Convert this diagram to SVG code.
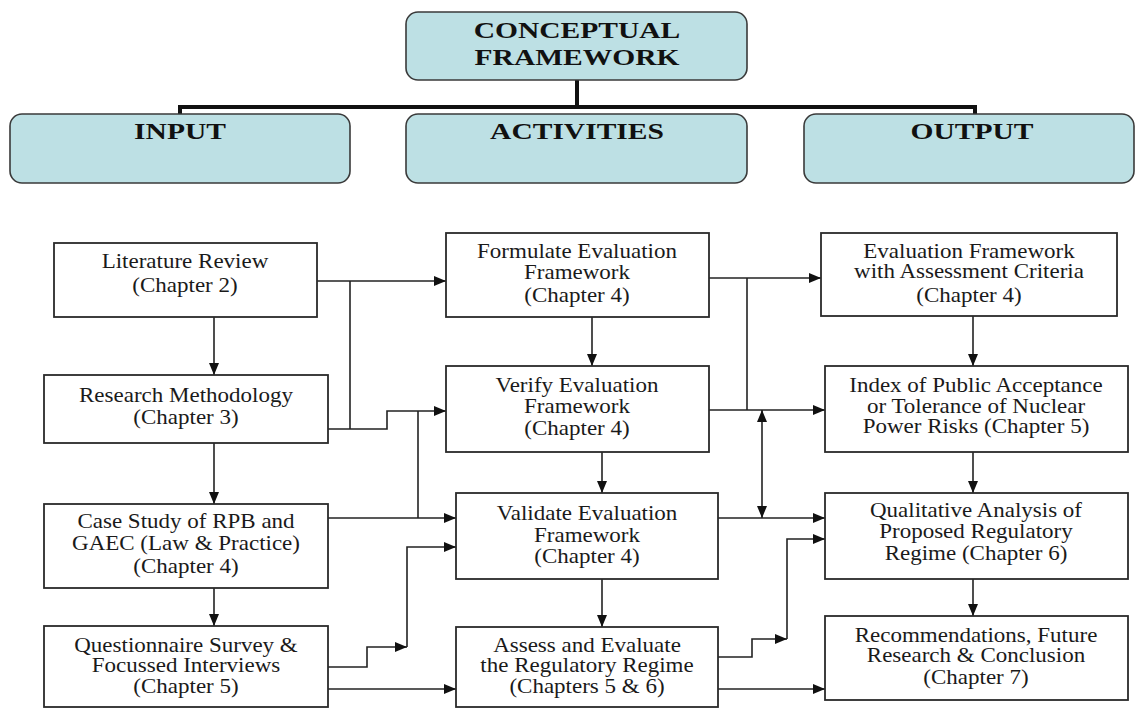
<svg xmlns="http://www.w3.org/2000/svg" width="1136" height="709" viewBox="0 0 1136 709">
<style>
.hbox{fill:#bde0e4;stroke:#3a3a3a;stroke-width:1.6}
.box{fill:#fff;stroke:#2a2a2a;stroke-width:1.8}
.ht{font-family:"Liberation Serif",serif;font-weight:bold;font-size:24px;fill:#111;text-anchor:middle}
.t{font-family:"Liberation Serif",serif;font-size:20px;fill:#1a1a1a;text-anchor:middle}
.c{fill:none;stroke:#222;stroke-width:1.6}
.a{marker-end:url(#ah)}
</style>
<defs>
<marker id="ah" markerUnits="userSpaceOnUse" markerWidth="12" markerHeight="10" refX="12" refY="5" orient="auto-start-reverse"><path d="M0,0 L12,5 L0,10 z" fill="#111"/></marker>
</defs>
<rect width="1136" height="709" fill="#fff"/>

<g id="header-connectors"><path d="M577,80 V107 M180,114 V107 H975 V114" fill="none" stroke="#111" stroke-width="4"/></g>

<g id="conceptual"><rect class="hbox" x="406" y="12" width="341" height="68" rx="12"/>
<text class="ht" transform="translate(577,38) scale(1.23,1)">CONCEPTUAL</text>
<text class="ht" transform="translate(577,65) scale(1.23,1)">FRAMEWORK</text></g>
<g id="input"><rect class="hbox" x="10" y="114" width="340" height="69" rx="12"/>
<text class="ht" transform="translate(180,139) scale(1.23,1)">INPUT</text></g>
<g id="activities"><rect class="hbox" x="406" y="114" width="341" height="69" rx="12"/>
<text class="ht" transform="translate(577,139) scale(1.23,1)">ACTIVITIES</text></g>
<g id="output"><rect class="hbox" x="804" y="114" width="330" height="69" rx="12"/>
<text class="ht" transform="translate(972,139) scale(1.23,1)">OUTPUT</text></g>

<g id="connectors">
<path class="c a" d="M214,317 V375"/>
<path class="c a" d="M214,443 V504"/>
<path class="c a" d="M214,588 V626"/>
<path class="c a" d="M317,281 H446"/>
<path class="c" d="M350,281 V429" stroke="#555"/>
<path class="c a" d="M328,429 H387 V411 H446"/>
<path class="c" d="M418,411 V518"/>
<path class="c a" d="M328,518 H456"/>
<path class="c a" d="M328,667 H367 V647 H407"/>
<path class="c a" d="M407,647 V547 H456"/>
<path class="c a" d="M328,689 H456"/>
<path class="c a" d="M592,317 V366"/>
<path class="c a" d="M602,452 V493"/>
<path class="c a" d="M602,579 V627"/>
<path class="c a" d="M709,278 H821"/>
<path class="c" d="M747,278 V410"/>
<path class="c a" d="M709,410 H825"/>
<path class="c a" d="M762,518 V410" style="marker-start:url(#ah)"/>
<path class="c a" d="M718,518 H825"/>
<path class="c a" d="M718,657 H752 V639 H787"/>
<path class="c a" d="M787,639 V539 H825"/>
<path class="c a" d="M718,689 H825"/>
<path class="c a" d="M973,316 V366"/>
<path class="c a" d="M973,452 V493"/>
<path class="c a" d="M973,579 V616"/>
</g>

<g id="literature-review"><rect class="box" x="54" y="243" width="263" height="74"/>
<text class="t" transform="translate(185,268) scale(1.15,1)">Literature Review</text>
<text class="t" transform="translate(185,292) scale(1.15,1)">(Chapter 2)</text></g>
<g id="research-methodology"><rect class="box" x="44" y="375" width="284" height="68"/>
<text class="t" transform="translate(186,402) scale(1.15,1)">Research Methodology</text>
<text class="t" transform="translate(186,424) scale(1.15,1)">(Chapter 3)</text></g>
<g id="case-study"><rect class="box" x="44" y="504" width="284" height="84"/>
<text class="t" transform="translate(186,528) scale(1.15,1)">Case Study of RPB and</text>
<text class="t" transform="translate(186,550) scale(1.15,1)">GAEC (Law &amp; Practice)</text>
<text class="t" transform="translate(186,573) scale(1.15,1)">(Chapter 4)</text></g>
<g id="questionnaire"><rect class="box" x="44" y="626" width="284" height="81"/>
<text class="t" transform="translate(186,652) scale(1.15,1)">Questionnaire Survey &amp;</text>
<text class="t" transform="translate(186,672) scale(1.15,1)">Focussed Interviews</text>
<text class="t" transform="translate(186,693) scale(1.15,1)">(Chapter 5)</text></g>

<g id="formulate"><rect class="box" x="446" y="233" width="263" height="84"/>
<text class="t" transform="translate(577,258) scale(1.15,1)">Formulate Evaluation</text>
<text class="t" transform="translate(577,279) scale(1.15,1)">Framework</text>
<text class="t" transform="translate(577,302) scale(1.15,1)">(Chapter 4)</text></g>
<g id="verify"><rect class="box" x="446" y="366" width="263" height="86"/>
<text class="t" transform="translate(577,392) scale(1.15,1)">Verify Evaluation</text>
<text class="t" transform="translate(577,413) scale(1.15,1)">Framework</text>
<text class="t" transform="translate(577,435) scale(1.15,1)">(Chapter 4)</text></g>
<g id="validate"><rect class="box" x="456" y="493" width="262" height="86"/>
<text class="t" transform="translate(587,520) scale(1.15,1)">Validate Evaluation</text>
<text class="t" transform="translate(587,542) scale(1.15,1)">Framework</text>
<text class="t" transform="translate(587,563) scale(1.15,1)">(Chapter 4)</text></g>
<g id="assess"><rect class="box" x="456" y="627" width="262" height="80"/>
<text class="t" transform="translate(587,652) scale(1.15,1)">Assess and Evaluate</text>
<text class="t" transform="translate(587,672) scale(1.15,1)">the Regulatory Regime</text>
<text class="t" transform="translate(587,693) scale(1.15,1)">(Chapters 5 &amp; 6)</text></g>

<g id="evaluation-framework"><rect class="box" x="821" y="233" width="296" height="83"/>
<text class="t" transform="translate(969,258) scale(1.15,1)">Evaluation Framework</text>
<text class="t" transform="translate(969,278) scale(1.15,1)">with Assessment Criteria</text>
<text class="t" transform="translate(969,302) scale(1.15,1)">(Chapter 4)</text></g>
<g id="index"><rect class="box" x="825" y="366" width="303" height="86"/>
<text class="t" transform="translate(976,392) scale(1.15,1)">Index of Public Acceptance</text>
<text class="t" transform="translate(976,413) scale(1.15,1)">or Tolerance of Nuclear</text>
<text class="t" transform="translate(976,433) scale(1.15,1)">Power Risks (Chapter 5)</text></g>
<g id="qualitative"><rect class="box" x="825" y="493" width="303" height="86"/>
<text class="t" transform="translate(976,517) scale(1.15,1)">Qualitative Analysis of</text>
<text class="t" transform="translate(976,538) scale(1.15,1)">Proposed Regulatory</text>
<text class="t" transform="translate(976,560) scale(1.15,1)">Regime (Chapter 6)</text></g>
<g id="recommendations"><rect class="box" x="825" y="616" width="303" height="84"/>
<text class="t" transform="translate(976,642) scale(1.15,1)">Recommendations, Future</text>
<text class="t" transform="translate(976,662) scale(1.15,1)">Research &amp; Conclusion</text>
<text class="t" transform="translate(976,684) scale(1.15,1)">(Chapter 7)</text></g>
</svg>
